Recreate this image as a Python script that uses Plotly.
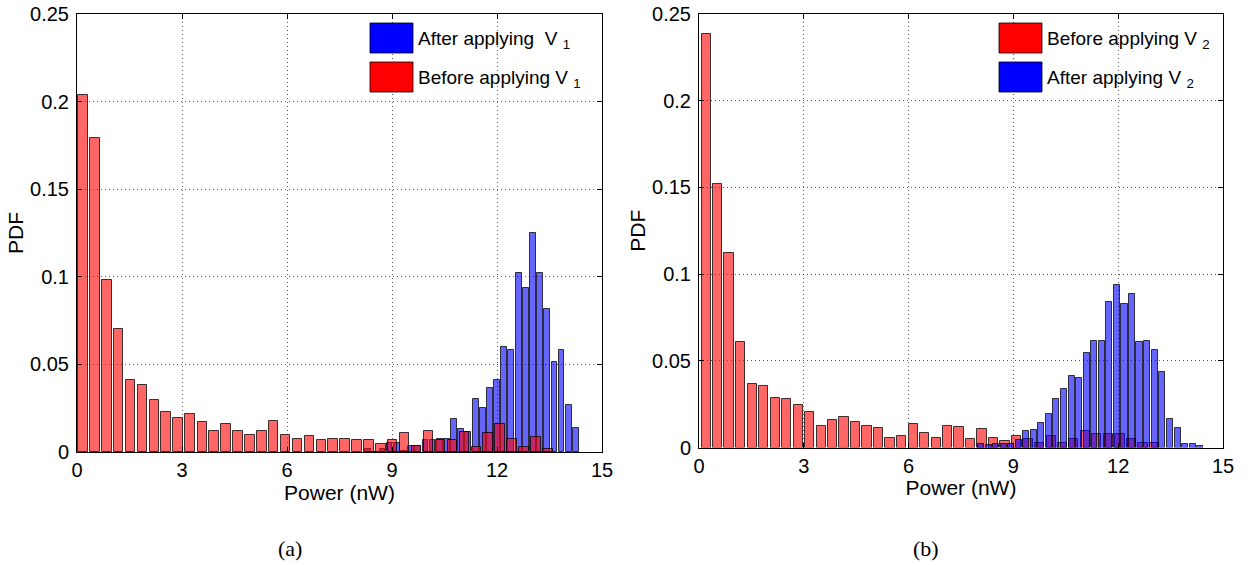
import plotly.graph_objects as go

# ---------------- data: panel (a) ----------------
a_before_x = [0.17, 0.51, 0.85, 1.19, 1.53, 1.87, 2.21, 2.55, 2.89, 3.23,
              3.58, 3.92, 4.26, 4.60, 4.94, 5.28, 5.62, 5.96, 6.30, 6.64,
              6.98, 7.32, 7.66, 8.00, 8.34, 8.68, 9.02, 9.36, 9.70, 10.04,
              10.39, 10.73, 11.07, 11.41, 11.75, 12.09, 12.43, 12.77, 13.11, 13.45]
a_before_pdf = [0.2035, 0.1790, 0.0980, 0.0703, 0.0412, 0.0382, 0.0299, 0.0229, 0.0196, 0.0219,
                0.0171, 0.0120, 0.0157, 0.0120, 0.0097, 0.0120, 0.0178, 0.0096, 0.0077, 0.0090,
                0.0071, 0.0076, 0.0076, 0.0070, 0.0069, 0.0048, 0.0068, 0.0107, 0.0036, 0.0119,
                0.0068, 0.0068, 0.0116, 0.0027, 0.0107, 0.0158, 0.0074, 0.0027, 0.0088, 0.0017]
a_after_x = [8.32, 8.52, 8.73, 8.93, 9.14, 9.34, 9.55, 9.75, 9.96, 10.16,
             10.37, 10.57, 10.77, 10.98, 11.18, 11.39, 11.59, 11.80, 12.00, 12.21,
             12.41, 12.62, 12.82, 13.02, 13.23, 13.43, 13.64, 13.84, 14.05, 14.25]
a_after_pdf = [0.0017, 0.0000, 0.0017, 0.0050, 0.0050, 0.0008, 0.0035, 0.0035, 0.0068, 0.0068,
               0.0074, 0.0072, 0.0188, 0.0131, 0.0112, 0.0302, 0.0250, 0.0364, 0.0412, 0.0597,
               0.0583, 0.1020, 0.0935, 0.1250, 0.1020, 0.0815, 0.0512, 0.0583, 0.0269, 0.0136]

# ---------------- data: panel (b) ----------------
b_before_x = [0.21, 0.54, 0.86, 1.19, 1.52, 1.85, 2.18, 2.51, 2.84, 3.17,
              3.50, 3.83, 4.15, 4.48, 4.81, 5.14, 5.47, 5.80, 6.13, 6.46,
              6.79, 7.12, 7.44, 7.77, 8.10, 8.43, 8.76, 9.09, 9.42, 9.75,
              10.08, 10.41, 10.73, 11.06, 11.39, 11.72, 12.05, 12.38, 12.71, 13.04]
b_before_pdf = [0.2385, 0.1517, 0.1121, 0.0609, 0.0369, 0.0357, 0.0287, 0.0277, 0.0248, 0.0207,
                0.0125, 0.0157, 0.0177, 0.0145, 0.0126, 0.0115, 0.0056, 0.0065, 0.0134, 0.0086,
                0.0056, 0.0124, 0.0118, 0.0049, 0.0105, 0.0054, 0.0035, 0.0066, 0.0050, 0.0025,
                0.0066, 0.0024, 0.0050, 0.0097, 0.0078, 0.0078, 0.0078, 0.0050, 0.0024, 0.0024]
b_after_x = [8.07, 8.29, 8.50, 8.72, 8.94, 9.15, 9.37, 9.58, 9.80, 10.02,
             10.23, 10.45, 10.67, 10.88, 11.10, 11.32, 11.53, 11.75, 11.96, 12.18,
             12.40, 12.61, 12.83, 13.05, 13.26, 13.48, 13.70, 13.91, 14.13, 14.35]
b_after_pdf = [0.0023, 0.0017, 0.0019, 0.0021, 0.0019, 0.0046, 0.0095, 0.0102, 0.0144, 0.0194,
               0.0277, 0.0335, 0.0415, 0.0403, 0.0543, 0.0612, 0.0612, 0.0842, 0.0937, 0.0826,
               0.0885, 0.0609, 0.0612, 0.0565, 0.0434, 0.0163, 0.0113, 0.0023, 0.0023, 0.0008]

x_ticks = [0, 3, 6, 9, 12, 15]
x_tick_text = ["0", "3", "6", "9", "12", "15"]
y_ticks = [0, 0.05, 0.1, 0.15, 0.2, 0.25]
y_tick_text = ["0", "0.05", "0.1", "0.15", "0.2", "0.25"]

W, H = 1253, 565
FONT = "Liberation Sans, Arial, Helvetica, sans-serif"
SERIF = "Liberation Serif, Times New Roman, serif"
RED_FILL = "rgba(255,0,0,0.6)"
BLUE_FILL = "rgba(0,0,255,0.6)"
EDGE = "rgba(0,0,0,0.75)"
TICK_SIZE = 20
TITLE_SIZE = 21
LEG_SIZE = 19


def px(x):
    return x / W


def py(y):
    return 1 - y / H


fig = go.Figure()

# panel (a): blue first, red on top
fig.add_trace(go.Bar(x=a_after_x, y=a_after_pdf, width=0.164, name="After applying V1",
                     marker=dict(color=BLUE_FILL, line=dict(color=EDGE, width=1)),
                     xaxis="x", yaxis="y", showlegend=False))
fig.add_trace(go.Bar(x=a_before_x, y=a_before_pdf, width=0.272, name="Before applying V1",
                     marker=dict(color=RED_FILL, line=dict(color=EDGE, width=1)),
                     xaxis="x", yaxis="y", showlegend=False))
# panel (b): red first, blue on top
fig.add_trace(go.Bar(x=b_before_x, y=b_before_pdf, width=0.263, name="Before applying V2",
                     marker=dict(color=RED_FILL, line=dict(color=EDGE, width=1)),
                     xaxis="x2", yaxis="y2", showlegend=False))
fig.add_trace(go.Bar(x=b_after_x, y=b_after_pdf, width=0.173, name="After applying V2",
                     marker=dict(color=BLUE_FILL, line=dict(color=EDGE, width=1)),
                     xaxis="x2", yaxis="y2", showlegend=False))

axis_common = dict(
    showgrid=True, gridcolor="rgba(0,0,0,0.65)", griddash="1px,3px", gridwidth=1,
    zeroline=False, showline=True, linecolor="black", linewidth=1, mirror="ticks",
    ticks="inside", ticklen=5, tickcolor="black",
    tickfont=dict(family=FONT, size=TICK_SIZE, color="black"),
    ticklabeloverflow="allow",
    automargin=False,
)
xt = dict(text="Power (nW)", standoff=0, font=dict(family=FONT, size=TITLE_SIZE, color="black"))
yt = dict(text="PDF", standoff=0, font=dict(family=FONT, size=TITLE_SIZE, color="black"))

fig.update_layout(
    width=W, height=H,
    margin=dict(l=0, r=0, t=0, b=0),
    paper_bgcolor="white", plot_bgcolor="white",
    barmode="overlay", bargap=0,
    font=dict(family=FONT, size=TICK_SIZE, color="black"),
    xaxis=dict(domain=[px(77), px(602)], range=[0, 15], tickvals=x_ticks, ticktext=x_tick_text,
               anchor="y", title=xt, **axis_common),
    yaxis=dict(domain=[py(452), py(14)], range=[0, 0.25], tickvals=y_ticks, ticktext=y_tick_text,
               anchor="x", title=yt, ticklabelstandoff=3, **axis_common),
    xaxis2=dict(domain=[px(699), px(1223)], range=[0, 15], tickvals=x_ticks, ticktext=x_tick_text,
                anchor="y2", title=xt, **axis_common),
    yaxis2=dict(domain=[py(447.5), py(14)], range=[0, 0.25], tickvals=y_ticks, ticktext=y_tick_text,
                anchor="x2", title=yt, ticklabelstandoff=3, **axis_common),
)

# hand-drawn legend boxes (MATLAB style large swatches)
shapes = []
annotations = []


def legend_item(x0, y0, color, label):
    shapes.append(dict(type="rect", xref="paper", yref="paper",
                       x0=px(x0), x1=px(x0 + 43), y0=py(y0 + 30), y1=py(y0),
                       fillcolor=color, line=dict(color="rgba(0,0,0,0.8)", width=1)))
    annotations.append(dict(xref="paper", yref="paper", x=px(x0 + 46), y=py(y0 + 17),
                            xanchor="left", yanchor="middle", showarrow=False,
                            text=label, font=dict(family=FONT, size=LEG_SIZE, color="black")))


legend_item(370, 23, "rgb(0,0,255)", "After applying  V <sub>1</sub>")
legend_item(370, 62, "rgb(255,0,0)", "Before applying V <sub>1</sub>")
legend_item(999, 23, "rgb(255,0,0)", "Before applying V <sub>2</sub>")
legend_item(999, 62, "rgb(0,0,255)", "After applying V <sub>2</sub>")

annotations.append(dict(xref="paper", yref="paper", x=px(290), y=py(548), xanchor="center",
                        yanchor="middle", showarrow=False, text="(a)",
                        font=dict(family=SERIF, size=22, color="black")))
annotations.append(dict(xref="paper", yref="paper", x=px(926), y=py(548), xanchor="center",
                        yanchor="middle", showarrow=False, text="(b)",
                        font=dict(family=SERIF, size=22, color="black")))

fig.update_layout(shapes=shapes, annotations=annotations)

# remove the browser's default 8px page margin so the figure sits at the window origin
fig.write_html("out.html",
               config={"displayModeBar": False},
               post_script="document.documentElement.style.margin='0';"
                           "document.body.style.margin='0';"
                           "document.body.style.overflow='hidden';")
